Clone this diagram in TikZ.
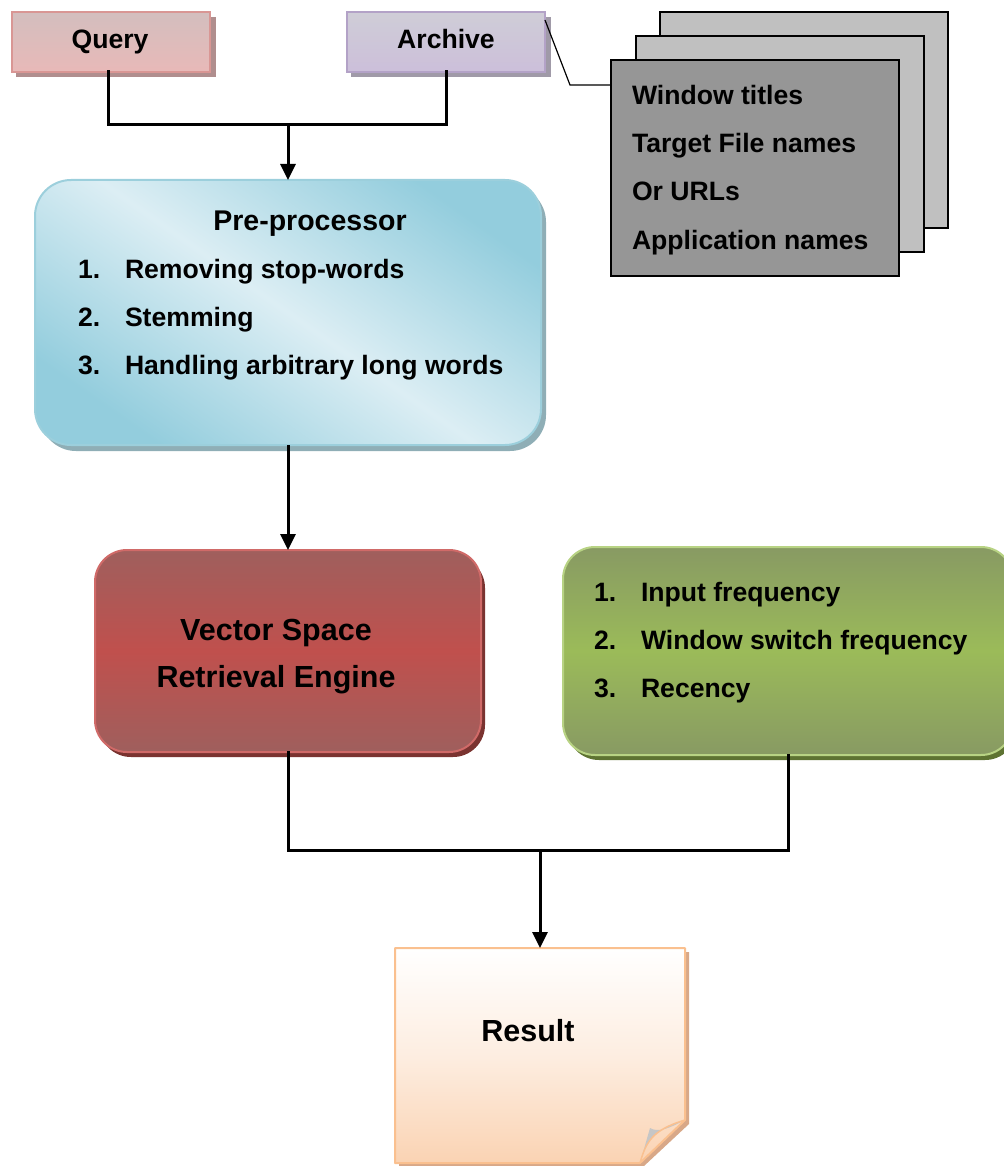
\documentclass[tikz,border=0pt]{standalone}
\usepackage{fontspec}
\setmainfont{Liberation Sans}
\usetikzlibrary{arrows.meta}
\definecolor{qtop}{HTML}{D3BEBE}\definecolor{qbot}{HTML}{E8B9B8}\definecolor{qbor}{HTML}{D99694}\definecolor{qsh}{HTML}{B08E8E}
\definecolor{atop}{HTML}{CFCDD7}\definecolor{abot}{HTML}{CCBFDA}\definecolor{abor}{HTML}{B3A2C7}\definecolor{ash}{HTML}{A09AA8}
\definecolor{plight}{HTML}{DCEEF4}\definecolor{pdark}{HTML}{93CDDD}\definecolor{pbor}{HTML}{9CCFDC}\definecolor{psh}{HTML}{8FAEB6}
\definecolor{vedge}{HTML}{9F5F5D}\definecolor{vmid}{HTML}{C0504D}\definecolor{vbor}{HTML}{D06A68}\definecolor{vsh}{HTML}{7A3330}
\definecolor{gedge}{HTML}{889A63}\definecolor{gmid}{HTML}{9BBB59}\definecolor{gbor}{HTML}{B8D384}\definecolor{gsh}{HTML}{5E7332}
\definecolor{rbot}{HTML}{FAD3B3}\definecolor{rbor}{HTML}{FAC08F}\definecolor{rsh}{HTML}{D8A888}
\definecolor{sheetlight}{HTML}{C0C0C0}\definecolor{sheetdark}{HTML}{969696}
\begin{document}
\begin{tikzpicture}[x=1pt,y=-1pt,
  every node/.style={font=\bfseries\fontsize{26.6}{30}\selectfont, inner sep=0pt, outer sep=0pt},
  boxbase/.style={anchor=north west, draw, line width=2pt},
  conn/.style={line width=3pt, line cap=rect},
  arr/.style={line width=3pt, -{Triangle[width=15pt,length=16pt]}},
  listtext/.style={anchor=base west},
  ctext/.style={anchor=base},
  sheet/.style={anchor=north west, draw=black, line width=1.6pt, minimum width=288pt, minimum height=216pt}
]
\useasboundingbox (0,0) rectangle (1003,1166);

% top boxes
\fill[qsh] (16,17) rectangle (216,77);
\node[boxbase, draw=qbor, top color=qtop, bottom color=qbot, minimum width=198pt, minimum height=60pt] (query) at (12,12) {};
\node[ctext] (querytxt) at (110,49) {Query};
\fill[ash] (351,17) rectangle (551,77);
\node[boxbase, draw=abor, top color=atop, bottom color=abot, minimum width=198pt, minimum height=60pt] (archive) at (347,12) {};
\node[ctext] (archivetxt) at (446,49) {Archive};

% stacked sheets
\node[sheet, fill=sheetlight] (sheetA) at (660,12) {};
\node[sheet, fill=sheetlight] (sheetB) at (636,36) {};
\node[sheet, fill=sheetdark] (sheetC) at (611,60) {};
\node[listtext] (s1) at (632,105) {Window titles};
\node[listtext] (s2) at (632,153) {Target File names};
\node[listtext] (s3) at (632,201) {Or URLs};
\node[listtext] (s4) at (632,249) {Application names};
\coordinate (cbend) at (570,85);
\coordinate (cend) at (610,85);
\draw[line width=1.2pt] ([yshift=-8pt]archive.north east) -- (cbend) -- (cend);

% pre-processor
\fill[psh, rounded corners=36pt] (40,186) rectangle (546,451);
\node[boxbase, draw=pbor, rounded corners=36pt, shading=axis, top color=pdark, bottom color=pdark, middle color=plight, shading angle=-35, minimum width=506pt, minimum height=265pt] (pre) at (35,180) {};
\node[ctext] (pretitle) at (310,231) {\fontsize{28.5}{32}\selectfont Pre-processor};
\node[listtext] (p1n) at (78,278) {1.};
\node[listtext] (p1) at (125,278) {Removing stop-words};
\node[listtext] (p2n) at (78,326) {2.};
\node[listtext] (p2) at (125,326) {Stemming};
\node[listtext] (p3n) at (78,374) {3.};
\node[listtext] (p3) at (125,374) {Handling arbitrary long words};

% vector space engine
\fill[vsh, rounded corners=32pt] (99,556) rectangle (485,757);
\node[boxbase, draw=vbor, rounded corners=32pt, top color=vedge, bottom color=vedge, middle color=vmid, minimum width=386pt, minimum height=202pt] (vector) at (95,550) {};
\node[ctext] (v1) at (276,640) {\fontsize{30.5}{34}\selectfont Vector Space};
\node[ctext] (v2) at (276,687) {\fontsize{30.5}{34}\selectfont Retrieval Engine};

% green criteria box
\fill[gsh, rounded corners=32pt] (567,553) rectangle (1017,760);
\node[boxbase, draw=gbor, rounded corners=32pt, top color=gedge, bottom color=gedge, middle color=gmid, minimum width=450pt, minimum height=208pt] (green) at (563,547) {};
\node[listtext] (g1n) at (594,601) {1.};
\node[listtext] (g1) at (641,601) {Input frequency};
\node[listtext] (g2n) at (594,649) {2.};
\node[listtext] (g2) at (641,649) {Window switch frequency};
\node[listtext] (g3n) at (594,697) {3.};
\node[listtext] (g3) at (641,697) {Recency};

% result (folded sheet)
\fill[rsh] (399,952) -- (689,952) -- (689,1124) -- (644,1166) -- (399,1166) -- cycle;
\node[anchor=north west, minimum width=290pt, minimum height=215pt] (result) at (395,948) {};
\shade[top color=white, bottom color=rbot, middle color=white!60!rbot] (395,948) -- (685,948) -- (685,1120) -- (640,1163) -- (395,1163) -- cycle;
\fill[gray!45] (640,1163) .. controls (646,1142) and (652,1130) .. (685,1120) .. controls (670,1128) and (658,1133) .. (650,1128) -- cycle;
\draw[rbor, line width=2pt, line join=round] (395,948) -- (685,948) -- (685,1120) -- (640,1163) -- (395,1163) -- cycle;
\draw[rbor, line width=1.5pt] (640,1163) .. controls (646,1142) and (652,1130) .. (685,1120);
\node[ctext] (restxt) at (528,1041) {\fontsize{30.5}{34}\selectfont Result};

% connectors
\coordinate (j1) at (288,125);
\coordinate (j2) at (540,850);
\draw[conn] ([xshift=-3pt]query.south) |- (j1) -| (archive.south);
\draw[arr] (j1) -- (pre.north);
\draw[arr] (pre.south) -- (vector.north);
\draw[conn] (vector.south) |- (j2) -| (green.south);
\draw[arr] (j2) -- (result.north);
\end{tikzpicture}
\end{document}
